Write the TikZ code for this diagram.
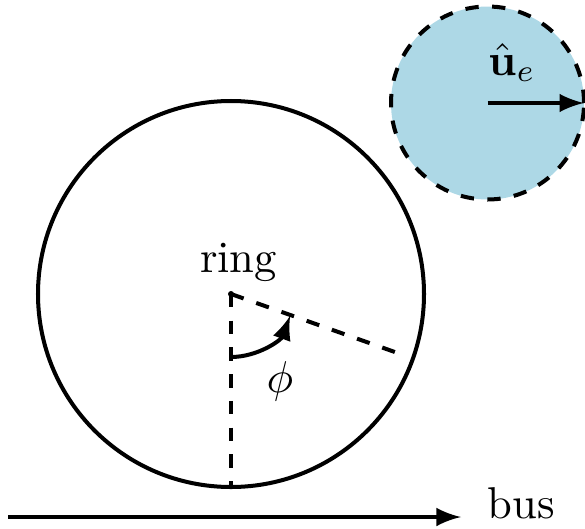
\documentclass[tikz,border=0pt]{standalone}
\usepackage{amsmath,bm}
\usetikzlibrary{arrows,calc}
\definecolor{ltblue}{RGB}{173,216,230}
\begin{document}
\begin{tikzpicture}[x=0.2244pt,y=0.2244pt,
  ringline/.style={line width=0.9pt},
  dashline/.style={line width=0.9pt,dashed},
  arr/.style={line width=0.9pt,-latex}]
\useasboundingbox (0,0) rectangle (585,528);
% ring
\coordinate (c) at (231,234);
\draw[ringline] (c) circle (193);
\fill (c) circle (3);
\node[anchor=base] (ringlbl) at (238.5,256) {ring};
\coordinate (bot) at (231,41);
\coordinate (side) at ($(c)+(-19.5:186)$);
\draw[dashline] (c) -- (bot);
\draw[dashline] (c) -- (side);
\draw[arr] ([shift={(-90:63)}]c) arc (-90:-20:63);
\node (phi) at (280,147) {$\phi$};
% small disc
\coordinate (e) at (487.5,425);
\draw[dashline,fill=ltblue] (e) circle (96.5);
\coordinate (etip) at (584,425);
\draw[arr] (e) -- (etip);
\node[anchor=base] (ue) at (512,453) {$\hat{\mathbf{u}}_e$};
% bus
\coordinate (bs) at (8,11);
\coordinate (be) at (461,11);
\draw[arr] (bs) -- (be);
\node (bus) at (521,25) {bus};
\end{tikzpicture}
\end{document}
